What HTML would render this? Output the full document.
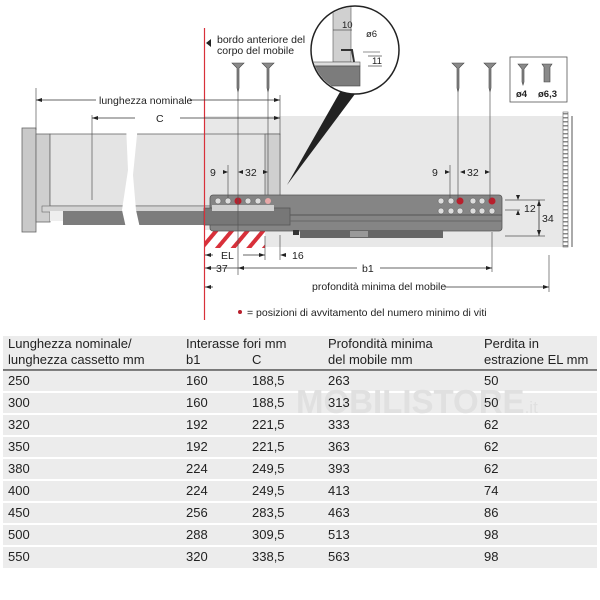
<!DOCTYPE html>
<html><head><meta charset="utf-8"><style>
body{margin:0;background:#fff;width:600px;height:600px;overflow:hidden;font-family:"Liberation Sans",sans-serif;}
svg{position:absolute;left:0;top:0}
.t{position:absolute;font-size:13px;color:#222;white-space:nowrap;line-height:16px}
</style></head><body>
<svg width="600" height="600" viewBox="0 0 600 600" font-family="Liberation Sans, sans-serif">
<defs>
<pattern id="hatch" width="12" height="12" patternUnits="userSpaceOnUse" patternTransform="rotate(40)">
<rect width="12" height="12" fill="#fff"/><rect width="4" height="12" fill="#d8303a"/></pattern>
<pattern id="wall" width="5" height="4" patternUnits="userSpaceOnUse"><rect width="5" height="4" fill="#fff"/><rect y="1" width="5" height="1.5" fill="#888"/></pattern>
</defs>
<rect x="205" y="116" width="358" height="131" fill="#e8e8e8"/>
<rect x="22" y="128" width="14" height="104" fill="#c9c9c9" stroke="#666" stroke-width="0.8"/>
<rect x="36" y="134" width="14" height="88" fill="#cfcfcf" stroke="#666" stroke-width="0.8"/>
<rect x="50" y="134" width="230" height="72" fill="#e4e4e4" stroke="#666" stroke-width="0.8"/>
<rect x="265" y="134" width="15" height="76" fill="#cfcfcf" stroke="#666" stroke-width="0.8"/>
<rect x="42" y="206" width="230" height="6" fill="#d4d4d4" stroke="#666" stroke-width="0.6"/>
<rect x="63" y="211" width="230" height="14" fill="#7c7c7c"/>
<rect x="50" y="211" width="13" height="10" fill="#eee"/>
<path d="M126 125 L138 125 L133 175 L136 210 L140 228 L126 228 L122 210 L128 170 Z" fill="#fff"/>
<rect x="205" y="230" width="60" height="18" fill="url(#hatch)"/>
<rect x="210" y="195" width="292" height="36" rx="3" fill="#858585" stroke="#555" stroke-width="0.8"/>
<rect x="204" y="208" width="86" height="17" fill="#777" stroke="#555" stroke-width="0.8"/>
<rect x="212" y="205" width="62" height="6" fill="#d0d0d0"/>
<line x1="290" y1="215" x2="502" y2="215" stroke="#555"/>
<line x1="290" y1="221" x2="502" y2="221" stroke="#666"/>
<rect x="300" y="230" width="143" height="8" fill="#666"/>
<rect x="350" y="231" width="18" height="6" fill="#999"/>
<rect x="293" y="230" width="6" height="5" fill="#333"/>
<g fill="#ddd" stroke="#555" stroke-width="0.5">
<circle cx="218" cy="201" r="3"/><circle cx="228" cy="201" r="3"/><circle cx="248" cy="201" r="3"/><circle cx="258" cy="201" r="3"/>
<circle cx="441" cy="201" r="3"/><circle cx="451" cy="201" r="3"/><circle cx="473" cy="201" r="3"/><circle cx="482" cy="201" r="3"/>
<circle cx="441" cy="211" r="3"/><circle cx="451" cy="211" r="3"/><circle cx="460" cy="211" r="3"/><circle cx="473" cy="211" r="3"/><circle cx="482" cy="211" r="3"/><circle cx="492" cy="211" r="3"/>
</g>
<g fill="#b81f2c"><circle cx="238" cy="201" r="3.5"/><circle cx="460" cy="201" r="3.5"/><circle cx="492" cy="201" r="3.5"/><circle cx="240" cy="312" r="2"/></g>
<circle cx="268" cy="201" r="3" fill="#e8a8a8"/>
<rect x="563" y="112" width="5" height="135" fill="url(#wall)" stroke="#666" stroke-width="0.6"/>
<line x1="572" y1="116" x2="572" y2="247" stroke="#555"/>
<line x1="204.5" y1="28" x2="204.5" y2="320" stroke="#d8303a" stroke-width="1.2"/>
<path d="M206 43 L211 39 L211 47 Z" fill="#222"/>
<path d="M340 92 L355 94 L287 185 Z" fill="#222"/>
<circle cx="355" cy="50" r="44" fill="#fff" stroke="#222" stroke-width="1.5"/>
<clipPath id="cc"><circle cx="355" cy="50" r="43"/></clipPath>
<g clip-path="url(#cc)">
<rect x="333" y="0" width="18" height="62" fill="#d0d0d0" stroke="#555" stroke-width="0.6"/>
<rect x="310" y="62" width="50" height="4" fill="#ddd" stroke="#555" stroke-width="0.6"/>
<rect x="310" y="66" width="50" height="20" fill="#7c7c7c" stroke="#444" stroke-width="0.6"/>
<path d="M341 50 L352 50 L354 62" fill="none" stroke="#333" stroke-width="2"/>
</g>
<g stroke="#222" stroke-width="0.6" fill="none">
<line x1="333" y1="30" x2="352" y2="30"/><line x1="363" y1="52" x2="380" y2="52"/><line x1="368" y1="56" x2="382" y2="56"/><line x1="368" y1="66" x2="382" y2="66"/>
</g>
<g font-size="9.5" fill="#222"><text x="342" y="28">10</text><text x="366" y="37">ø6</text><text x="372" y="64">11</text></g>
<g fill="#8a8a8a" stroke="#444" stroke-width="0.6">
<path d="M232 63 L244 63 L239 68 L239 88 L238 92 L237 88 L237 68 Z"/>
<path d="M262 63 L274 63 L269 68 L269 88 L268 92 L267 88 L267 68 Z"/>
<path d="M452 63 L464 63 L459 68 L459 88 L458 92 L457 88 L457 68 Z"/>
<path d="M484 63 L496 63 L491 68 L491 88 L490 92 L489 88 L489 68 Z"/>
<path d="M518 64 L528 64 L524 69 L524 82 L523 85 L522 82 L522 69 Z"/>
<path d="M542 64 L552 64 L550 67 L550 82 L544 82 L544 67 Z"/>
</g>
<rect x="510" y="57" width="57" height="45" fill="none" stroke="#555" stroke-width="0.8"/>
<text x="516" y="97" font-size="9.5" font-weight="bold" fill="#222">ø4</text>
<text x="538" y="97" font-size="9.5" font-weight="bold" fill="#222">ø6,3</text>
<g stroke="#555" stroke-width="0.7">
<line x1="238" y1="92" x2="238" y2="275"/><line x1="268" y1="92" x2="268" y2="195"/>
<line x1="458" y1="92" x2="458" y2="200"/><line x1="490" y1="92" x2="490" y2="200"/>
<line x1="36" y1="88" x2="36" y2="130"/><line x1="280" y1="95" x2="280" y2="135"/>
<line x1="92" y1="115" x2="92" y2="200"/><line x1="228" y1="165" x2="228" y2="198"/>
<line x1="450" y1="165" x2="450" y2="198"/><line x1="265" y1="236" x2="265" y2="260"/>
<line x1="280" y1="235" x2="280" y2="260"/><line x1="492" y1="232" x2="492" y2="272"/>
<line x1="549" y1="255" x2="549" y2="292"/>
<line x1="505" y1="200" x2="545" y2="200"/><line x1="505" y1="210" x2="520" y2="210"/><line x1="505" y1="236" x2="545" y2="236"/>
</g>
<g stroke="#333" stroke-width="0.8">
<line x1="36" y1="100" x2="96" y2="100"/><line x1="190" y1="100" x2="280" y2="100"/>
<line x1="92" y1="118" x2="135" y2="118"/><line x1="180" y1="118" x2="280" y2="118"/>
<line x1="205" y1="255" x2="213" y2="255"/><line x1="243" y1="255" x2="265" y2="255"/>
<line x1="205" y1="268" x2="238" y2="268"/><line x1="238" y1="268" x2="357" y2="268"/><line x1="380" y1="268" x2="492" y2="268"/>
<line x1="205" y1="287" x2="213" y2="287"/><line x1="445" y1="287" x2="549" y2="287"/>
<line x1="539" y1="200" x2="539" y2="236"/>
</g>
<g fill="#222">
<path d="M36 100 l6 -2 v4z"/><path d="M280 100 l-6 -2 v4z"/><path d="M92 118 l6 -2 v4z"/><path d="M280 118 l-6 -2 v4z"/>
<path d="M205 255 l6 -2 v4z"/><path d="M265 255 l-6 -2 v4z"/><path d="M280 255 l6 -2 v4z"/>
<path d="M205 268 l6 -2 v4z"/><path d="M238 268 l6 -2 v4z"/><path d="M492 268 l-6 -2 v4z"/>
<path d="M205 287 l6 -2 v4z"/><path d="M549 287 l-6 -2 v4z"/>
<path d="M228 172 l-5 -2 v4z"/><path d="M238 172 l5 -2 v4z"/><path d="M268 172 l-5 -2 v4z"/>
<path d="M450 172 l-5 -2 v4z"/><path d="M460 172 l5 -2 v4z"/><path d="M490 172 l-5 -2 v4z"/>
<path d="M539 200 l-2 6 h4z"/><path d="M539 236 l-2 -6 h4z"/>
<path d="M518 200 l-2 -5 h4z"/><path d="M518 210 l-2 5 h4z"/>
</g>
<g font-size="10.5" fill="#222">
<text x="217" y="43">bordo anteriore del</text><text x="217" y="54">corpo del mobile</text>
<text x="99" y="104">lunghezza nominale</text>
<text x="156" y="122">C</text>
<text x="210" y="176">9</text><text x="245" y="176">32</text>
<text x="432" y="176">9</text><text x="467" y="176">32</text>
<text x="221" y="259">EL</text><text x="216" y="272">37</text><text x="292" y="259">16</text>
<text x="362" y="272">b1</text>
<text x="312" y="290">profondità minima del mobile</text>
<text x="524" y="212">12</text><text x="542" y="222">34</text>
<text x="247" y="316">= posizioni di avvitamento del numero minimo di viti</text>
</g>
<rect x="3" y="336" width="594" height="34" fill="#ececec"/>
<line x1="3" y1="370" x2="597" y2="370" stroke="#333" stroke-width="1.2"/>
<g fill="#ececec">
<rect x="3" y="371" width="594" height="20"/><rect x="3" y="393" width="594" height="20"/><rect x="3" y="415" width="594" height="20"/>
<rect x="3" y="437" width="594" height="20"/><rect x="3" y="459" width="594" height="20"/><rect x="3" y="481" width="594" height="20"/>
<rect x="3" y="503" width="594" height="20"/><rect x="3" y="525" width="594" height="20"/><rect x="3" y="547" width="594" height="21"/>
</g>
<text x="296" y="413" font-size="33" font-weight="bold" fill="#e0e0e0">MOBILISTORE<tspan font-size="17" font-weight="normal">.it</tspan></text>
</svg>
<div class="t" style="left:8px;top:336px">Lunghezza nominale/<br>lunghezza cassetto mm</div>
<div class="t" style="left:186px;top:336px">Interasse fori mm<br>b1</div>
<div class="t" style="left:252px;top:352px">C</div>
<div class="t" style="left:328px;top:336px">Profondità minima<br>del mobile mm</div>
<div class="t" style="left:484px;top:336px">Perdita in<br>estrazione EL mm</div>
<div class="t" style="left:8px;top:370px;line-height:22px">250<br>300<br>320<br>350<br>380<br>400<br>450<br>500<br>550</div>
<div class="t" style="left:186px;top:370px;line-height:22px">160<br>160<br>192<br>192<br>224<br>224<br>256<br>288<br>320</div>
<div class="t" style="left:252px;top:370px;line-height:22px">188,5<br>188,5<br>221,5<br>221,5<br>249,5<br>249,5<br>283,5<br>309,5<br>338,5</div>
<div class="t" style="left:328px;top:370px;line-height:22px">263<br>313<br>333<br>363<br>393<br>413<br>463<br>513<br>563</div>
<div class="t" style="left:484px;top:370px;line-height:22px">50<br>50<br>62<br>62<br>62<br>74<br>86<br>98<br>98</div>
</body></html>
